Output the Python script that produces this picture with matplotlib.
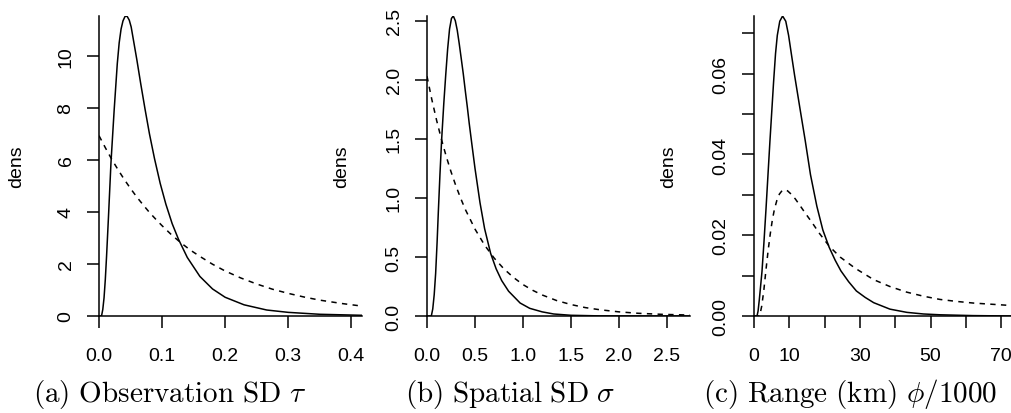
import matplotlib
matplotlib.use("Agg")
import matplotlib.pyplot as plt

plt.rcParams['font.family'] = ['Liberation Sans', 'DejaVu Sans']
plt.rcParams['mathtext.fontset'] = 'cm'

# (a) observation SD tau : solid = posterior, dashed = prior
tau_post_x = [0.0, 0.004, 0.006, 0.008, 0.010, 0.012, 0.015, 0.019, 0.024, 0.029,
              0.032, 0.035, 0.038, 0.041, 0.043, 0.045, 0.048, 0.051, 0.055, 0.060,
              0.066, 0.073, 0.080, 0.088, 0.097, 0.106, 0.116, 0.126, 0.140, 0.160,
              0.180, 0.200, 0.230, 0.266, 0.300, 0.350, 0.417]
tau_post_y = [0.0, 0.0, 0.25, 0.7, 1.4, 2.3, 3.8, 5.9, 7.9, 9.7,
              10.5, 11.03, 11.34, 11.50, 11.53, 11.50, 11.37, 11.11, 10.55, 9.85,
              8.95, 7.95, 7.0, 6.05, 5.1, 4.3, 3.55, 2.95, 2.25, 1.52,
              1.04, 0.72, 0.43, 0.23, 0.14, 0.066, 0.027]
tau_prior_x = [0.0, 0.01, 0.02, 0.03, 0.04, 0.05, 0.06, 0.07, 0.08, 0.09, 0.10, 0.115,
               0.13, 0.145, 0.16, 0.18, 0.20, 0.225, 0.25, 0.275, 0.30, 0.325, 0.35,
               0.385, 0.417]
tau_prior_y = [6.93, 6.47, 6.03, 5.63, 5.25, 4.90, 4.57, 4.27, 3.98, 3.72, 3.47, 3.12,
               2.81, 2.53, 2.29, 1.99, 1.73, 1.46, 1.23, 1.03, 0.87, 0.73, 0.61,
               0.48, 0.38]

# (b) spatial SD sigma
sig_post_x = [0.0, 0.045, 0.06, 0.075, 0.09, 0.105, 0.118, 0.135, 0.153, 0.175,
              0.195, 0.215, 0.235, 0.255, 0.274, 0.295, 0.315, 0.335, 0.355, 0.378,
              0.40, 0.42, 0.44, 0.465, 0.50, 0.552, 0.60, 0.663, 0.72, 0.778,
              0.85, 0.97, 1.07, 1.2, 1.32, 1.5, 1.8, 2.2, 2.74]
sig_post_y = [0.0, 0.0, 0.06, 0.18, 0.36, 0.62, 0.88, 1.2, 1.50, 1.80,
              2.04, 2.26, 2.43, 2.52, 2.54, 2.50, 2.42, 2.31, 2.19, 2.05,
              1.90, 1.77, 1.63, 1.47, 1.25, 0.96, 0.74, 0.53, 0.40, 0.30,
              0.21, 0.11, 0.065, 0.035, 0.017, 0.006, 0.001, 0.0, 0.0]
sig_prior_x = [0.0, 0.05, 0.1, 0.15, 0.2, 0.25, 0.3, 0.35, 0.4, 0.5, 0.6, 0.7, 0.8,
               0.9, 1.0, 1.1, 1.2, 1.35, 1.5, 1.65, 1.8, 2.0, 2.2, 2.45, 2.74]
sig_prior_y = [2.03, 1.834, 1.657, 1.497, 1.352, 1.222, 1.104, 0.998, 0.901, 0.736,
               0.600, 0.490, 0.400, 0.327, 0.266, 0.218, 0.178, 0.131, 0.097, 0.071,
               0.053, 0.035, 0.023, 0.014, 0.008]

# (c) range phi/1000 in km
rng_post_x = [0.0, 0.85, 1.15, 1.5, 2.26, 2.8, 3.4, 4.5, 5.55, 6.1,
              6.6, 7.3, 8.1, 9.0, 9.8, 10.6, 11.5, 13.0, 14.5, 16.0,
              17.8, 19.5, 21.3, 23.0, 24.6, 26.8, 29.0, 31.5, 33.9, 38.5,
              43.3, 48.0, 52.7, 62.0, 72.8]
rng_post_y = [0.0, 0.0, 0.0012, 0.004, 0.011, 0.018, 0.0265, 0.0431, 0.058, 0.065,
              0.0695, 0.0730, 0.0743, 0.0730, 0.0695, 0.0648, 0.0596, 0.0515, 0.0435, 0.035,
              0.0272, 0.0213, 0.0170, 0.0138, 0.0112, 0.0085, 0.0062, 0.0046, 0.0033, 0.0017,
              0.0009, 0.0005, 0.0003, 0.0001, 0.0]
rng_prior_x = [0.0, 1.6, 2.2, 2.8, 3.4, 4.0, 4.6, 5.2, 5.8, 6.5, 7.2, 8.0, 8.7, 9.5,
               10.5, 11.7, 13.0, 14.5, 16.4, 18.5, 21.3, 24.4, 28.7, 33.9, 38.5,
               43.3, 48.0, 52.7, 57.5, 62.2, 67.5, 72.8]
rng_prior_y = [0.0, 0.0, 0.0025, 0.0065, 0.0115, 0.0162, 0.0203, 0.0238, 0.0265,
               0.0287, 0.0302, 0.0311, 0.0313, 0.0310, 0.0302, 0.0290, 0.0274, 0.0255,
               0.0232, 0.0205, 0.0173, 0.0146, 0.0118, 0.0090, 0.0073, 0.0059, 0.0049,
               0.0041, 0.0036, 0.0032, 0.0029, 0.0026]

captions = [r'$\mathrm{(a)\ Observation\ SD}\ \tau$',
            r'$\mathrm{(b)\ Spatial\ SD}\ \sigma$',
            r'$\mathrm{(c)\ Range\ (km)}\ \phi/1000$']

a_xticks = [0.0, 0.1, 0.2, 0.3, 0.4]
a_xlabels = ['0.0', '0.1', '0.2', '0.3', '0.4']
a_yticks = [0, 2, 4, 6, 8, 10]
a_ylabels = ['0', '2', '4', '6', '8', '10']
b_xticks = [0.0, 0.5, 1.0, 1.5, 2.0, 2.5]
b_xlabels = ['0.0', '0.5', '1.0', '1.5', '2.0', '2.5']
b_yticks = [0.0, 0.5, 1.0, 1.5, 2.0, 2.5]
b_ylabels = ['0.0', '0.5', '1.0', '1.5', '2.0', '2.5']
c_xticks = [0, 10, 20, 30, 40, 50, 60, 70]
c_xlabels = ['0', '10', '', '30', '', '50', '', '70']
c_yticks = [0.0, 0.01, 0.02, 0.03, 0.04, 0.05, 0.06, 0.07]
c_ylabels = ['0.00', '', '0.02', '', '0.04', '', '0.06', '']

W, H = 1011, 414
fig = plt.figure(figsize=(W / 100, H / 100), dpi=100)

# axes boxes in pixels: left, right, top, bottom
boxes = [(99, 362, 17, 317), (427, 690, 17, 317), (754, 1011, 17, 317)]
label_x = [17, 342, 669]
cap_left = [33, 405, 703]

panels = [
    (tau_post_x, tau_post_y, tau_prior_x, tau_prior_y, a_xticks, a_xlabels, a_yticks, a_ylabels),
    (sig_post_x, sig_post_y, sig_prior_x, sig_prior_y, b_xticks, b_xlabels, b_yticks, b_ylabels),
    (rng_post_x, rng_post_y, rng_prior_x, rng_prior_y, c_xticks, c_xlabels, c_yticks, c_ylabels),
]

for i, (px, py, qx, qy, xt, xl, yt, yl) in enumerate(panels):
    l, r, t, b = boxes[i]
    ax = fig.add_axes([l / W, (H - b) / H, (r - l) / W, (b - t) / H])
    ax.plot(px, py, color='black', lw=1.1, solid_joinstyle='round')
    ax.plot(qx, qy, color='black', lw=1.1, linestyle=(0, (3.5, 3.5)))
    ax.set_xlim(0, max(max(px), max(qx)))
    ax.set_ylim(0, max(max(py), max(qy)))
    for s in ['top', 'right']:
        ax.spines[s].set_visible(False)
    for s in ['left', 'bottom']:
        ax.spines[s].set_linewidth(1.1)
    ax.set_xticks(xt)
    ax.set_xticklabels(xl)
    ax.set_yticks(yt)
    ax.set_yticklabels(yl, rotation=90, va='center')
    ax.tick_params(axis='both', direction='out', length=8.6, width=1.1, labelsize=14)
    ax.tick_params(axis='x', pad=14)
    ax.tick_params(axis='y', pad=9)
    ax.set_ylabel('dens', fontsize=14)
    ax.yaxis.label.set_va('center')
    ax.yaxis.set_label_coords((label_x[i] - l) / (r - l), 0.5)
    fig.text(cap_left[i] / W, 12 / H, captions[i], ha='left', va='baseline', fontsize=21)

fig.savefig('out.png', dpi=100)
